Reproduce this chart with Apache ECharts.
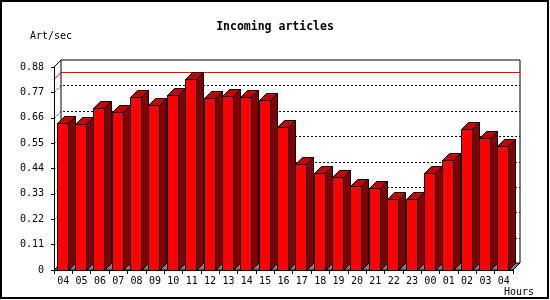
<!DOCTYPE html>
<html>
<head>
<meta charset="utf-8">
<script src="https://cdn.jsdelivr.net/npm/echarts@6/dist/echarts.min.js"></script>
<style>
html,body{margin:0;padding:0;background:#fff;}
#chart{width:550px;height:300px;}
</style>
</head>
<body>
<div id="chart"></div>
<script>
const categories = ['04','05','06','07','08','09','10','11','12','13','14','15','16','17','18','19','20','21','22','23','00','01','02','03','04'];
const articleRates = [0.637,0.633,0.702,0.685,0.750,0.715,0.758,0.828,0.745,0.755,0.750,0.737,0.620,0.459,0.420,0.402,0.363,0.355,0.307,0.307,0.420,0.478,0.611,0.572,0.538];
const maxRate = 0.83;
const gridValues = [0.11,0.22,0.33,0.44,0.55,0.66,0.77];
const yMax = 0.88;
const yStep = 0.11;

const D = 7;            // 3D depth in px
const FONT = 'DejaVu Sans Mono';

const chart = echarts.init(document.getElementById('chart'), null, {renderer: 'canvas'});

function frameRender(params, api) {
  const cs = params.coordSys;
  const x0 = cs.x, x1 = cs.x + cs.width, top = cs.y, bot = cs.y + cs.height;
  const children = [];
  // floor
  children.push({type: 'polygon', shape: {points: [[x0, bot], [x1, bot], [x1 + D, bot - D], [x0 + D, bot - D]]},
    style: {fill: '#808080', stroke: '#000', lineWidth: 1}});
  // back wall dotted grid lines (with diagonal on side wall)
  gridValues.forEach(v => {
    const y = Math.round(api.coord([0, v])[1]) + 0.5;
    children.push({type: 'polyline', shape: {points: [[x0, y], [x0 + D, y - D], [x1 + D, y - D]]},
      style: {stroke: '#000', lineWidth: 1, lineDash: [2, 2], fill: null}});
  });
  // max line
  const ym = Math.round(api.coord([0, maxRate])[1]) + 0.5;
  children.push({type: 'polyline', shape: {points: [[x0, ym], [x0 + D, ym - D], [x1 + D, ym - D]]},
    style: {stroke: '#ff0000', lineWidth: 1, fill: null}});
  // wall edges
  children.push({type: 'polyline', shape: {points: [[x0, top], [x0 + D, top - D], [x1 + D, top - D], [x1 + D, bot - D], [x1, bot]]},
    style: {stroke: '#000', lineWidth: 1, fill: null}});
  children.push({type: 'line', shape: {x1: x0 + D, y1: top - D, x2: x0 + D, y2: bot - D},
    style: {stroke: '#000', lineWidth: 1}});
  return {type: 'group', children: children};
}

function barRender(params, api) {
  const idx = api.value(0);
  const p = api.coord([idx, api.value(1)]);
  const base = api.coord([idx, 0]);
  const fx = Math.round(p[0] - 6.5) + 0.5;
  const w = 11;
  const ty = Math.round(p[1]) + 0.5;
  const by = Math.round(base[1]) + 0.5;
  return {type: 'group', children: [
    {type: 'polygon', shape: {points: [[fx + w, ty], [fx + w + D, ty - D], [fx + w + D, by - D], [fx + w, by]]},
      style: {fill: '#800000', stroke: '#000', lineWidth: 1}},
    {type: 'polygon', shape: {points: [[fx, ty], [fx + D, ty - D], [fx + w + D, ty - D], [fx + w, ty]]},
      style: {fill: '#c00000', stroke: '#000', lineWidth: 1}},
    {type: 'rect', shape: {x: fx, y: ty, width: w, height: by - ty},
      style: {fill: '#ff0000', stroke: '#000', lineWidth: 1}}
  ]};
}

chart.setOption({
  animation: false,
  backgroundColor: '#fff',
  title: {
    text: 'Incoming articles', left: 'center', top: 21, padding: 0,
    textStyle: {fontFamily: FONT, fontSize: 11.5, fontWeight: 'bold', color: '#000'}
  },
  grid: {left: 54, right: 37, top: 67, bottom: 30, containLabel: false},
  xAxis: {
    type: 'category', data: categories,
    axisLine: {show: true, lineStyle: {color: '#000', width: 1}},
    axisTick: {show: true, length: 4, lineStyle: {color: '#000'}},
    axisLabel: {fontFamily: FONT, fontSize: 10, color: '#000', margin: 6, interval: 0},
    splitLine: {show: false}
  },
  yAxis: {
    type: 'value', min: 0, max: yMax, interval: yStep,
    axisLine: {show: true, lineStyle: {color: '#000', width: 1}},
    axisTick: {show: true, length: 3, lineStyle: {color: '#000'}},
    axisLabel: {fontFamily: FONT, fontSize: 10, color: '#000', margin: 10,
      formatter: v => (Math.abs(v) < 1e-9 ? '0' : v.toFixed(2))},
    splitLine: {show: false}
  },
  graphic: [
    {type: 'rect', shape: {x: 1, y: 1, width: 547, height: 297}, style: {fill: null, stroke: '#000', lineWidth: 2}, z: 100},
    {type: 'text', left: 30, top: 31, style: {text: 'Art/sec', font: '10px "DejaVu Sans Mono"', fill: '#000'}},
    {type: 'text', left: 504, top: 287, style: {text: 'Hours', font: '10px "DejaVu Sans Mono"', fill: '#000'}}
  ],
  series: [
    {type: 'custom', renderItem: frameRender, data: [[0, 0]], z: 1, silent: true, clip: false},
    {type: 'custom', renderItem: barRender, data: articleRates.map((v, i) => [i, v]), encode: {x: 0, y: 1}, z: 3, clip: false}
  ]
});
</script>
</body>
</html>
